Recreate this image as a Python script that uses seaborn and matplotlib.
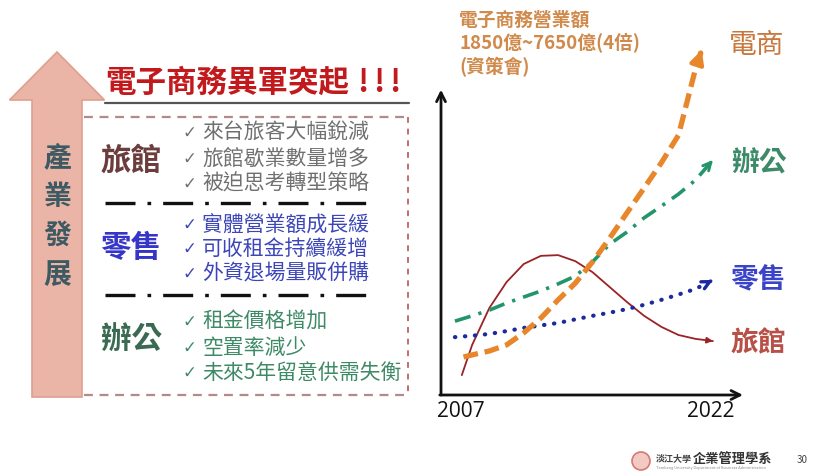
import numpy as np
import pandas as pd
import matplotlib
matplotlib.use("Agg")
import matplotlib.pyplot as plt
import matplotlib.patches as mpatches
import seaborn as sns

# --- data (index values, 0 = x axis, 100 = top) ---
ecom_years = [2007.5, 2008, 2009, 2010, 2011, 2012, 2013, 2014, 2015, 2016, 2017, 2018, 2019, 2020, 2021, 2021.35]
ecom_vals = [10.7, 11.3, 12.4, 14.1, 17.5, 21.7, 26.8, 31.5, 37.5, 44.2, 51.3, 58.3, 65.4, 73.2, 92.1, 97.2]

office_years = [2007, 2008, 2009, 2010, 2011, 2012, 2013, 2014, 2015, 2016, 2017, 2018, 2019, 2020, 2021, 2022]
office_vals = [20.8, 22.3, 23.9, 25.9, 27.6, 29.3, 31.3, 33.5, 37.5, 42.5, 45.9, 49.9, 53.2, 56.6, 60.6, 66.2]

retail_years = [2007, 2008, 2009, 2010, 2011, 2012, 2013, 2014, 2015, 2016, 2017, 2018, 2019, 2020, 2021, 2022]
retail_vals = [16.3, 16.7, 17.2, 18.0, 18.9, 19.6, 20.3, 21.3, 22.3, 23.2, 24.2, 25.4, 26.8, 28.3, 29.9, 32.4]

hotel_years = [2007.4, 2008, 2009, 2010, 2011, 2012, 2013, 2014, 2015, 2016, 2017, 2018, 2019, 2020, 2021, 2022]
hotel_vals = [5.6, 14.1, 24.5, 31.8, 36.9, 39.2, 39.4, 37.7, 34.6, 30.4, 26.2, 22.3, 19.2, 16.9, 15.8, 15.2]

year_ticks = ["2007", "2022"]

title = "電子商務異軍突起!!!"
side_label = "產業發展"
groups = ["旅館", "零售", "辦公"]
bullets = [
    ["來台旅客大幅銳減", "旅館歇業數量增多", "被迫思考轉型策略"],
    ["實體營業額成長緩", "可收租金持續緩增", "外資退場量販併購"],
    ["租金價格增加", "空置率減少", "未來5年留意供需失衡"],
]
note_lines = ["電子商務營業額", "1850億~7650億(4倍)", "(資策會)"]

sns.set_theme(style="white")
CJK = ["Noto Sans CJK TC", "DejaVu Sans"]
plt.rcParams["font.family"] = CJK

W, H = 813, 473
fig = plt.figure(figsize=(W / 100, H / 100), dpi=100)
fig.patch.set_facecolor("white")

# background / layout layer in pixel units
bg = fig.add_axes([0, 0, 1, 1])
bg.set_xlim(0, W)
bg.set_ylim(H, 0)
bg.axis("off")

# big pink arrow
arrow = mpatches.FancyArrow(57, 397, 0, -345, width=50, head_width=95, head_length=48,
                            length_includes_head=True, facecolor="#eab4a7",
                            edgecolor="#dfa08f", lw=1.2)
bg.add_patch(arrow)
for i, ch in enumerate(side_label):
    bg.text(57, 158 + i * 39, ch, ha="center", va="center", fontsize=20,
            color="#3d5a63", fontweight="bold")

# title + underline (the "!!!" is spread out like on the slide)
head, bangs = title.rstrip("!"), title[len(title.rstrip("!")):]
bg.text(105, 83, head, ha="left", va="center", fontsize=22, fontweight="bold",
        color="#c2191c")
for i, b in enumerate(bangs):
    bg.text(363 + i * 16, 83, b, ha="center", va="center", fontsize=22, fontweight="bold",
            color="#c2191c")
bg.plot([105, 409], [103, 103], color="#555555", lw=1.6)

# dashed box
box_col = "#b48a88"
bg.plot([84, 408], [117, 117], color=box_col, lw=1.6, ls=(0, (4, 3)))
bg.plot([84, 408], [395, 395], color=box_col, lw=1.6, ls=(0, (4, 3)))
bg.plot([408, 408], [117, 395], color="#c07070", lw=1.4, ls=(0, (3, 3)))

# separators
for yy in [203, 295]:
    bg.plot([105, 372], [yy, yy], color="#111111", lw=2.4, ls=(0, (9, 3.6, 1.1, 3.6)))

group_cols = ["#6b3d3d", "#3535c8", "#3a6b52"]
bullet_cols = ["#707070", "#3c46b8", "#3f8a66"]
group_y = [161, 248, 340]
bullet_y = [[133, 159, 184], [225, 249, 274], [322, 348, 373]]
for g, gy, gc, bc, items, ys in zip(groups, group_y, group_cols, bullet_cols, bullets, bullet_y):
    bg.text(131, gy, g, ha="center", va="center", fontsize=22, fontweight="bold", color=gc)
    for txt, yy in zip(items, ys):
        bg.text(182, yy, "✓", ha="left", va="center", fontsize=12, color=bc,
                family=["DejaVu Sans"])
        bg.text(202, yy, txt, ha="left", va="center", fontsize=15, color=bc)

# note above chart
for i, line in enumerate(note_lines):
    bg.text(459, 20 + i * 23.5, line, ha="left", va="center", fontsize=13.5,
            color="#d08a4c", fontweight="bold")

# series labels
bg.text(757, 45, "電商", ha="center", va="center", fontsize=20, color="#c9773c")
bg.text(759, 163, "辦公", ha="center", va="center", fontsize=20, fontweight="bold", color="#3d8a68")
bg.text(758, 280, "零售", ha="center", va="center", fontsize=20, fontweight="bold", color="#3a44c8")
bg.text(758, 343, "旅館", ha="center", va="center", fontsize=20, fontweight="bold", color="#b85048")

# year labels
bg.text(461, 411, year_ticks[0], ha="center", va="center", fontsize=15, color="#111111",
        family=["Open Sans", "DejaVu Sans"])
bg.text(711, 411, year_ticks[1], ha="center", va="center", fontsize=15, color="#111111",
        family=["Open Sans", "DejaVu Sans"])

# footer
bg.add_patch(mpatches.Circle((641, 461), 9, facecolor="#f3c9c3", edgecolor="#d47a72", lw=1.2))
bg.text(656, 459, "淡江大學", ha="left", va="center", fontsize=6.5, color="#444444", fontweight="bold")
bg.text(693, 459, "企業管理學系", ha="left", va="center", fontsize=9.5, color="#333333", fontweight="bold")
bg.text(656, 468, "Tamkang University Department of Business Administration", ha="left",
        va="center", fontsize=2.8, color="#888888")
bg.text(797, 460, "30", ha="left", va="center", fontsize=7, color="#444444")

# --- chart ---
ax = fig.add_axes([441 / W, (H - 395) / H, (743 - 441) / W, (395 - 40) / H])
ax.patch.set_alpha(0)
ax.set_xlim(2006.19, 2023.75)
ax.set_ylim(0, 100)
for s in ax.spines.values():
    s.set_visible(False)
ax.set_xticks([])
ax.set_yticks([])

ax.annotate("", xy=(0, 0.86), xytext=(0, 0), xycoords="axes fraction",
            arrowprops=dict(arrowstyle="->", color="#111111", lw=2, shrinkA=0, shrinkB=0,
                            mutation_scale=16))
ax.annotate("", xy=(1, 0), xytext=(-0.004, 0), xycoords="axes fraction",
            arrowprops=dict(arrowstyle="->", color="#111111", lw=2, shrinkA=0, shrinkB=0,
                            mutation_scale=16))

series = [
    (hotel_years, hotel_vals, "#9b2226", 1.3, "-", "-|>", 9, "butt"),
    (retail_years, retail_vals, "#1c2a9e", 3.0, (0, (0.1, 2.3)), "->", 14, "round"),
    (office_years, office_vals, "#23956a", 2.6, (0, (4.5, 2.3, 0.9, 2.3)), "->", 14, "butt"),
    (ecom_years, ecom_vals, "#e8862c", 3.8, (0, (2.8, 1.3)), "-|>", 20, "butt"),
]
for xs, ys, col, lw, ls, ast, ms, cap in series:
    df = pd.DataFrame({"year": xs, "value": ys})
    sns.lineplot(data=df, x="year", y="value", ax=ax, color=col, lw=lw, ls=ls,
                 dash_capstyle=cap, clip_on=False)
    x0, y0 = xs[-2] + 0.85 * (xs[-1] - xs[-2]), ys[-2] + 0.85 * (ys[-1] - ys[-2])
    ax.annotate("", xy=(xs[-1], ys[-1]), xytext=(x0, y0),
                arrowprops=dict(arrowstyle=ast, color=col, lw=max(lw * 0.8, 1.2),
                                shrinkA=0, shrinkB=0, mutation_scale=ms),
                annotation_clip=False)
ax.set_xlabel("")
ax.set_ylabel("")

fig.savefig("out.png", dpi=100)
